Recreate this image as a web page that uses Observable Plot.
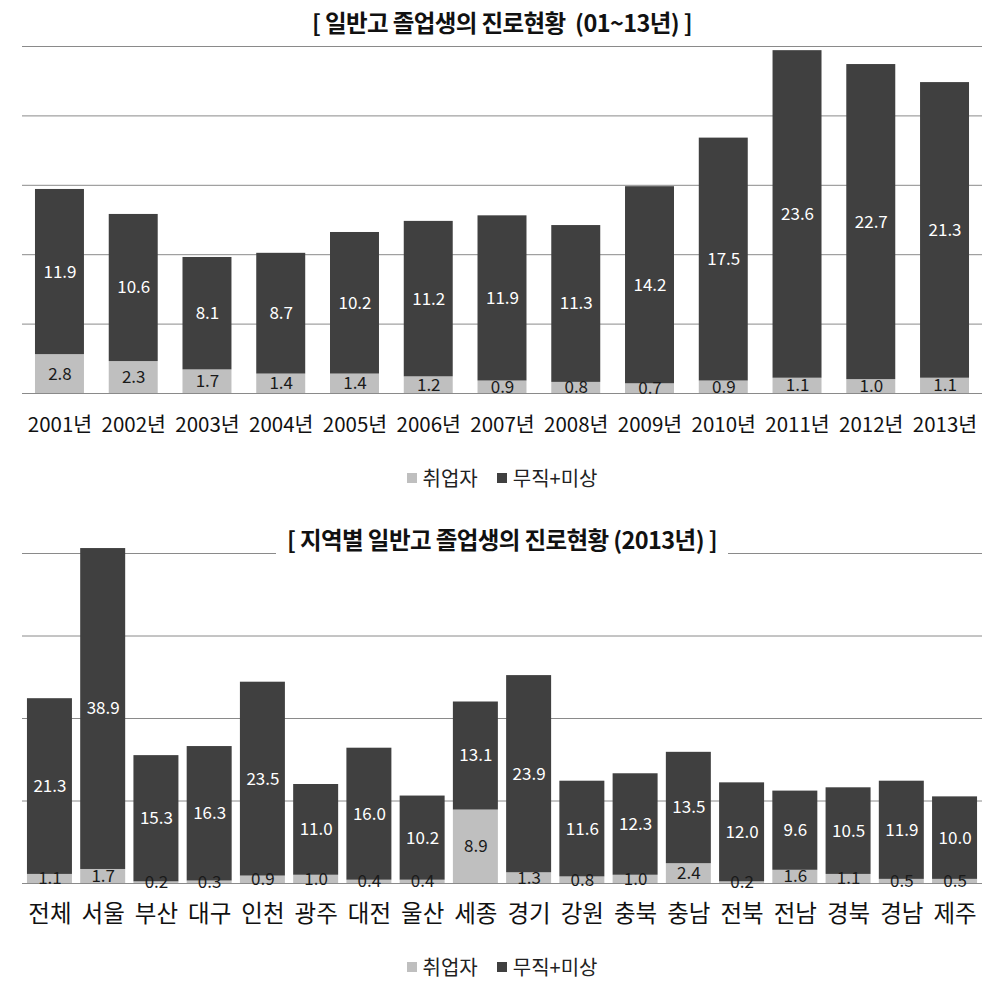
<!DOCTYPE html>
<html>
<head>
<meta charset="utf-8">
<script src="https://cdn.jsdelivr.net/npm/d3@7"></script>
<script src="https://cdn.jsdelivr.net/npm/@observablehq/plot@0.6"></script>
<style>
  html, body { margin: 0; padding: 0; background: #fff; }
  body { font-family: "Noto Sans CJK KR", "Noto Sans", sans-serif; }
  #wrap { position: relative; width: 1004px; height: 998px; overflow: hidden; }
  .abs { position: absolute; left: 0; }
  .title { width: 1004px; text-align: center; font-weight: bold; font-size: 23.5px; line-height: 28px; color: #111; letter-spacing: -0.6px; }
  .title span { background: #fff; padding: 0 11px; }
  .legend { width: 1004px; display: flex; justify-content: center; gap: 19px; font-size: 20px; line-height: 24px; color: #222; }
  .legend .item { display: flex; align-items: center; gap: 6px; }
  .legend .sw { width: 10px; height: 10px; display: inline-block; }
</style>
</head>
<body>
<div id="wrap">
  <div id="c1" class="abs" style="top:0"></div>
  <div class="abs title" style="top:8px"><span>[ 일반고 졸업생의 진로현황 &nbsp;(01~13년) ]</span></div>
  <div id="l1" class="abs legend" style="top:466px"></div>
  <div id="c2" class="abs" style="top:500px"></div>
  <div class="abs title" style="top:525px"><span>[ 지역별 일반고 졸업생의 진로현황 (2013년) ]</span></div>
  <div id="l2" class="abs legend" style="top:955px"></div>
</div>
<script>
// ---- Data ----
const seriesNames = ["취업자", "무직+미상"];
const seriesColors = ["#bfbfbf", "#404040"];
const labelColors = ["#1a1a1a", "#ffffff"];

const years = ["2001년","2002년","2003년","2004년","2005년","2006년","2007년","2008년","2009년","2010년","2011년","2012년","2013년"];
const employedByYear = [2.8, 2.3, 1.7, 1.4, 1.4, 1.2, 0.9, 0.8, 0.7, 0.9, 1.1, 1.0, 1.1];
const idleByYear = [11.9, 10.6, 8.1, 8.7, 10.2, 11.2, 11.9, 11.3, 14.2, 17.5, 23.6, 22.7, 21.3];
const yTicks1 = [0, 5, 10, 15, 20, 25];

const regions = ["전체","서울","부산","대구","인천","광주","대전","울산","세종","경기","강원","충북","충남","전북","전남","경북","경남","제주"];
const employedByRegion = [1.1, 1.7, 0.2, 0.3, 0.9, 1.0, 0.4, 0.4, 8.9, 1.3, 0.8, 1.0, 2.4, 0.2, 1.6, 1.1, 0.5, 0.5];
const idleByRegion = [21.3, 38.9, 15.3, 16.3, 23.5, 11.0, 16.0, 10.2, 13.1, 23.9, 11.6, 12.3, 13.5, 12.0, 9.6, 10.5, 11.9, 10.0];
const yTicks2 = [0, 10, 20, 30, 40];

function rows(cats, a, b) {
  const out = [];
  cats.forEach((c, i) => {
    out.push({cat: c, series: seriesNames[0], value: a[i]});
    out.push({cat: c, series: seriesNames[1], value: b[i]});
  });
  return out;
}

const FONT = '"Noto Sans CJK KR", "Noto Sans", sans-serif';

function chart({data, cats, ticks, yMax, paddingInner, paddingOuter, height, marginTop, marginBottom, tickFont, tickPadding, letterSpacing}) {
  return Plot.plot({
    width: 1004,
    height,
    marginTop,
    marginBottom,
    marginLeft: 22,
    marginRight: 22,
    style: {fontFamily: FONT, fontSize: tickFont + "px", color: "#111", background: "#fff", overflow: "visible"},
    x: {domain: cats, paddingInner, paddingOuter, round: false, label: null},
    y: {domain: [0, yMax], axis: null},
    color: {domain: seriesNames, range: seriesColors},
    marks: [
      Plot.ruleY(ticks, {stroke: "#8a8a8a", strokeWidth: 1}),
      Plot.barY(data, Plot.stackY({x: "cat", y: "value", fill: "series", order: null})),
      Plot.text(data, Plot.stackY({
        x: "cat", y: "value", z: "series", order: null,
        text: d => d.value.toFixed(1),
        fill: d => labelColors[seriesNames.indexOf(d.series)],
        fontSize: 17, fontFamily: FONT
      })),
      Plot.axisX({tickSize: 0, tickPadding, fontSize: tickFont, label: null, style: {letterSpacing}})
    ]
  });
}

document.getElementById("c1").append(chart({
  data: rows(years, employedByYear, idleByYear), cats: years, ticks: yTicks1, yMax: 25,
  paddingInner: 0.336, paddingOuter: 0.176, height: 445, marginTop: 46, marginBottom: 52,
  tickFont: 20.5, tickPadding: 24, letterSpacing: "-2.5px"
}));
document.getElementById("c2").append(chart({
  data: rows(regions, employedByRegion, idleByRegion), cats: regions, ticks: yTicks2, yMax: 40,
  paddingInner: 0.155, paddingOuter: 0.093, height: 443, marginTop: 53, marginBottom: 60,
  tickFont: 23.5, tickPadding: 22, letterSpacing: "-1.5px"
}));

function legend(id) {
  const el = document.getElementById(id);
  seriesNames.forEach((s, i) => {
    const it = document.createElement("div");
    it.className = "item";
    const sw = document.createElement("span");
    sw.className = "sw"; sw.style.background = seriesColors[i];
    const t = document.createElement("span");
    t.textContent = s;
    it.append(sw, t);
    el.append(it);
  });
}
legend("l1"); legend("l2");
</script>
</body>
</html>
